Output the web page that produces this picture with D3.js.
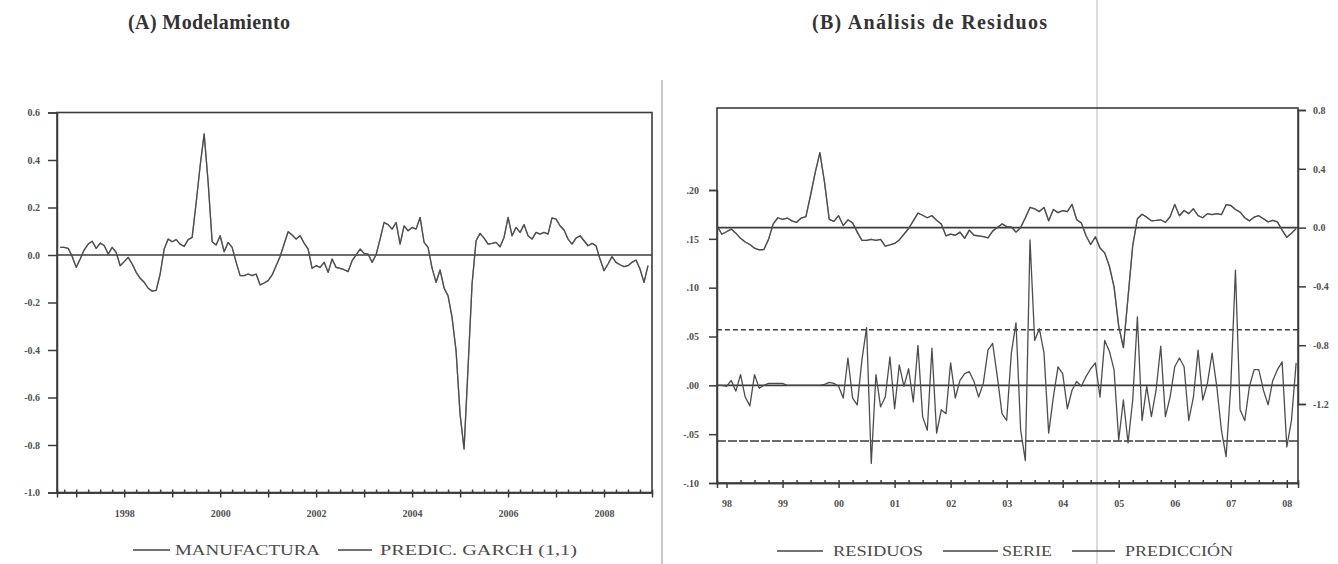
<!DOCTYPE html>
<html lang="es">
<head>
<meta charset="UTF-8">
<title>Modelamiento y Análisis de Residuos</title>
<script src="https://d3js.org/d3.v7.min.js"></script>
<style>
  body { margin: 0; background: #fff; }
  svg { display: block; font-family: "Liberation Serif", "DejaVu Serif", serif; }
  .axis path, .axis line { stroke: #3c3c3c; stroke-width: 1.5; }
  .axis text { fill: #505050; font-size: 10px; font-weight: bold; font-family: "Liberation Serif", "DejaVu Serif", serif; }
  .serie { fill: none; stroke: #4d4d4d; stroke-width: 1.3; stroke-linejoin: round; }
</style>
</head>
<body>
<svg id="chart" width="1338" height="564"></svg>
<script>
// serie mensual de manufactura, comienza en septiembre de 1996
const primerMes = 1996 + 8 / 12;
const manufactura = [
  0.032, 0.032, 0.028, -0.006, -0.052, -0.017, 0.022, 0.046, 0.058, 0.028, 0.050, 0.040,
  0.004, 0.032, 0.011, -0.045, -0.028, -0.010, -0.038, -0.073, -0.098, -0.115, -0.140, -0.152,
  -0.149, -0.080, 0.025, 0.067, 0.056, 0.065, 0.046, 0.036, 0.065, 0.074, 0.220, 0.376,
  0.510, 0.306, 0.056, 0.042, 0.081, 0.014, 0.053, 0.032, -0.031, -0.087, -0.087, -0.080,
  -0.087, -0.080, -0.126, -0.118, -0.108, -0.084, -0.045, -0.006, 0.046, 0.098, 0.084, 0.067,
  0.081, 0.050, 0.025, -0.056, -0.045, -0.052, -0.031, -0.073, -0.017, -0.052, -0.056, -0.062,
  -0.070, -0.024, 0.001, 0.025, 0.007, 0.004, -0.031, 0.001, 0.067, 0.137, 0.128, 0.109,
  0.137, 0.046, 0.123, 0.102, 0.116, 0.109, 0.158, 0.053, 0.032, -0.055, -0.115, -0.063,
  -0.139, -0.172, -0.263, -0.403, -0.670, -0.817, -0.473, -0.122, 0.060, 0.091, 0.071, 0.046,
  0.049, 0.053, 0.035, 0.074, 0.158, 0.081, 0.116, 0.095, 0.128, 0.081, 0.067, 0.095,
  0.088, 0.095, 0.088, 0.156, 0.151, 0.123, 0.105, 0.067, 0.046, 0.071, 0.081, 0.060,
  0.039, 0.049, 0.039, -0.017, -0.066, -0.038, -0.007, -0.031, -0.041, -0.049, -0.045, -0.031,
  -0.021, -0.059, -0.115, -0.045
];

// residuos del modelo, desde noviembre de 1997 (mes 14 de la serie)
const inicioResiduos = 14;
const residuos = [
  0.000, 0.000, -0.001, 0.005, -0.006, 0.011, -0.012, -0.021, 0.011, -0.003, 0.000, 0.002,
  0.002, 0.002, 0.002, 0.000, 0.000, 0.000, 0.000, 0.000, 0.000, 0.000, 0.000, 0.001,
  0.003, 0.002, -0.001, -0.013, 0.028, -0.013, -0.020, 0.026, 0.059, -0.080, 0.011, -0.022,
  -0.012, 0.029, -0.024, 0.021, -0.001, 0.017, -0.017, 0.041, -0.032, -0.046, 0.038, -0.049,
  -0.025, -0.029, 0.023, -0.013, 0.005, 0.012, 0.014, 0.004, -0.012, 0.002, 0.036, 0.043,
  0.009, -0.029, -0.036, 0.033, 0.064, -0.046, -0.077, 0.149, 0.046, 0.058, 0.033, -0.049,
  -0.012, 0.019, 0.012, -0.024, -0.005, 0.004, -0.001, 0.009, 0.017, 0.023, -0.012, 0.046,
  0.035, 0.016, -0.056, -0.015, -0.059, -0.015, 0.070, -0.036, -0.001, -0.032, -0.005, 0.040,
  -0.032, -0.012, 0.019, 0.028, 0.019, -0.036, -0.012, 0.036, -0.015, 0.002, 0.033, -0.001,
  -0.046, -0.073, -0.001, 0.118, -0.025, -0.036, -0.001, 0.016, 0.016, -0.005, -0.020, 0.005,
  0.016, 0.024, -0.063, -0.036, 0.023
];
const bandaResiduos = 0.057;

const ticksA = [0.6, 0.4, 0.2, 0.0, -0.2, -0.4, -0.6, -0.8, -1.0];
const aniosA = d3.range(1997, 2009);
const ticksBizq = [0.20, 0.15, 0.10, 0.05, 0.00, -0.05, -0.10];
const ticksBder = [0.8, 0.4, 0.0, -0.4, -0.8, -1.2];
const aniosB = d3.range(1998, 2009);
const leyendaA = ["MANUFACTURA", "PREDIC. GARCH (1,1)"];
const leyendaB = ["RESIDUOS", "SERIE", "PREDICCIÓN"];

const serie = manufactura.map((v, i) => ({ t: primerMes + i / 12, v }));
const serieB = serie.slice(inicioResiduos, inicioResiduos + residuos.length);
const resid = residuos.map((v, i) => ({ t: primerMes + (inicioResiduos + i) / 12, v }));

const svg = d3.select("#chart");

// marcas del escaneo: separador y doblez
svg.append("line").attr("x1", 662).attr("x2", 662).attr("y1", 80).attr("y2", 564)
  .attr("stroke", "#c9c9c9").attr("stroke-width", 2);
svg.append("line").attr("x1", 1097).attr("x2", 1097).attr("y1", 0).attr("y2", 564)
  .attr("stroke", "#dcdcdc").attr("stroke-width", 2);

// titulos
svg.append("text").attr("x", 128).attr("y", 29).attr("textLength", 162)
  .attr("font-size", 20).attr("font-weight", "bold").attr("fill", "#333")
  .text("(A)  Modelamiento");
svg.append("text").attr("x", 812).attr("y", 29).attr("textLength", 235)
  .attr("font-size", 20).attr("font-weight", "bold").attr("fill", "#333")
  .text("(B)  Análisis de Residuos");

// ---------- Panel A ----------
const xA = d3.scaleLinear().domain([1996.6, 2009.0]).range([57, 652]);
const yA = d3.scaleLinear().domain([-1.0, 0.6]).range([492.5, 112.5]);

svg.append("rect").attr("x", 57).attr("y", 112.5).attr("width", 595).attr("height", 380)
  .attr("fill", "none").attr("stroke", "#3c3c3c").attr("stroke-width", 1.6);

svg.append("g").attr("class", "axis").attr("transform", "translate(57,0)")
  .call(d3.axisLeft(yA).tickValues(ticksA).tickSize(9).tickPadding(8)
    .tickFormat(d => d.toFixed(1)));
svg.append("g").attr("class", "axis").attr("transform", "translate(0,492.5)")
  .call(d3.axisBottom(xA).tickValues(aniosA).tickSize(5).tickPadding(12)
    .tickFormat(d => d % 2 === 0 ? d : ""));
svg.append("g").attr("class", "axis").attr("transform", "translate(0,492.5)")
  .call(d3.axisBottom(xA).tickValues(d3.range(1996.75, 2009, 0.25)).tickSize(-3).tickFormat(""));

svg.append("line").attr("x1", 57).attr("x2", 652).attr("y1", yA(0)).attr("y2", yA(0))
  .attr("stroke", "#3c3c3c").attr("stroke-width", 1.6);

const lineaA = d3.line().x(d => xA(d.t)).y(d => yA(d.v));
svg.append("path").datum(serie).attr("class", "serie").attr("d", lineaA);
// prediccion GARCH(1,1): coincide con la serie a esta escala
svg.append("path").datum(serie).attr("class", "serie").attr("stroke-opacity", 0.6).attr("d", lineaA);

// ---------- Panel B ----------
const xB = d3.scaleLinear().domain([1997.83, 2008.2]).range([717, 1298]);
const yBizq = d3.scaleLinear().domain([-0.10, 0.20]).range([483, 190]);
const yBder = d3.scaleLinear().domain([-1.2, 0.8]).range([404, 110]);

svg.append("rect").attr("x", 717).attr("y", 108).attr("width", 581).attr("height", 375)
  .attr("fill", "none").attr("stroke", "#3c3c3c").attr("stroke-width", 1.6);

svg.append("g").attr("class", "axis").attr("transform", "translate(717,0)")
  .call(d3.axisLeft(yBizq).tickValues(ticksBizq).tickSize(8).tickPadding(10)
    .tickFormat(d => d.toFixed(2).replace("0.", ".")));
svg.append("g").attr("class", "axis").attr("transform", "translate(1298,0)")
  .call(d3.axisRight(yBder).tickValues(ticksBder).tickSize(8).tickPadding(7)
    .tickFormat(d => d.toFixed(1)));
svg.append("g").attr("class", "axis").attr("transform", "translate(0,483)")
  .call(d3.axisBottom(xB).tickValues(aniosB).tickSize(5).tickPadding(12)
    .tickFormat(d => String(d).slice(2)));
svg.append("g").attr("class", "axis").attr("transform", "translate(0,483)")
  .call(d3.axisBottom(xB).tickValues(d3.range(1998.25, 2008.2, 0.25)).tickSize(-3).tickFormat(""));

// lineas de referencia
svg.append("line").attr("x1", 717).attr("x2", 1298).attr("y1", yBder(0)).attr("y2", yBder(0))
  .attr("stroke", "#3c3c3c").attr("stroke-width", 1.6);
svg.append("line").attr("x1", 717).attr("x2", 1298).attr("y1", yBizq(0)).attr("y2", yBizq(0))
  .attr("stroke", "#3c3c3c").attr("stroke-width", 1.6);
[bandaResiduos, -bandaResiduos].forEach((b, k) => {
  svg.append("line").attr("x1", 717).attr("x2", 1298).attr("y1", yBizq(b)).attr("y2", yBizq(b))
    .attr("stroke", "#3c3c3c").attr("stroke-width", 1.5)
    .attr("stroke-dasharray", k === 0 ? "5,3" : "9,2");
});

svg.append("path").datum(resid).attr("class", "serie")
  .attr("d", d3.line().x(d => xB(d.t)).y(d => yBizq(d.v)));
const lineaB = d3.line().x(d => xB(d.t)).y(d => yBder(d.v));
svg.append("path").datum(serieB).attr("class", "serie").attr("d", lineaB);
svg.append("path").datum(serieB).attr("class", "serie").attr("stroke-opacity", 0.6).attr("d", lineaB);

// ---------- Leyendas ----------
const itemsLeyenda = [
  { x1: 133, x2: 170, tx: 175, tl: 145, y: 551, txt: leyendaA[0] },
  { x1: 338, x2: 372, tx: 380, tl: 197, y: 551, txt: leyendaA[1] },
  { x1: 777, x2: 823, tx: 833, tl: 90, y: 552, txt: leyendaB[0] },
  { x1: 943, x2: 998, tx: 1002, tl: 50, y: 552, txt: leyendaB[1] },
  { x1: 1072, x2: 1115, tx: 1125, tl: 108, y: 552, txt: leyendaB[2] }
];
const ley = svg.append("g").selectAll("g").data(itemsLeyenda).enter().append("g");
ley.append("line").attr("x1", d => d.x1).attr("x2", d => d.x2)
  .attr("y1", d => d.y - 1).attr("y2", d => d.y - 1)
  .attr("stroke", "#444").attr("stroke-width", 1.5);
ley.append("text").attr("x", d => d.tx).attr("y", d => d.y + 4)
  .attr("textLength", d => d.tl).attr("lengthAdjust", "spacingAndGlyphs")
  .attr("font-size", 14).attr("fill", "#4a4a4a").text(d => d.txt);
</script>
</body>
</html>
